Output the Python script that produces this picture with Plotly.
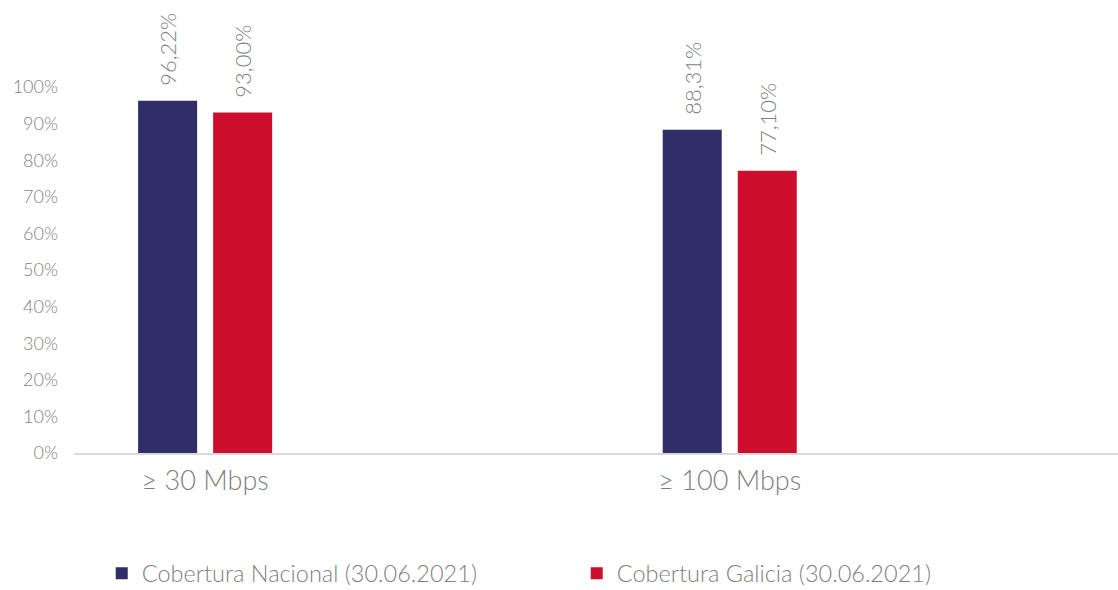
import plotly.graph_objects as go

categories = ["≥ 30 Mbps", "≥ 100 Mbps"]
series_names = ["Cobertura Nacional (30.06.2021)", "Cobertura Galicia (30.06.2021)"]
nacional = [0.9622, 0.8831]
galicia = [0.9300, 0.7710]
colors = ["#302E69", "#CE0E2D"]
tick_vals = [0, 0.1, 0.2, 0.3, 0.4, 0.5, 0.6, 0.7, 0.8, 0.9, 1.0]
tick_text = ["0%", "10%", "20%", "30%", "40%", "50%", "60%", "70%", "80%", "90%", "100%"]

FONT = "Lato"
GRAY = "#7F7F7F"
BAR_W = 0.1125
OFFSETS = [-0.1278, 0.0152]

def fmt(v):
    return "\u00a0\u00a0" + f"{v*100:.2f}".replace(".", ",") + "%"

fig = go.Figure()
for name, vals, col, off in zip(series_names, [nacional, galicia], colors, OFFSETS):
    fig.add_trace(go.Bar(
        x=categories, y=vals, name=name, marker=dict(color=col, line=dict(width=0)),
        width=BAR_W, offset=off,
        text=[fmt(v) for v in vals], textposition="outside", textangle=-90,
        constraintext="none",
        textfont=dict(family=FONT, size=22, color=GRAY, weight=300), cliponaxis=False,
    ))

fig.update_layout(
    width=1118, height=590, plot_bgcolor="white", paper_bgcolor="white",
    margin=dict(l=74, r=0, t=5, b=137, autoexpand=False),
    barmode="overlay",
    font=dict(family=FONT, color=GRAY, weight=300),
    xaxis=dict(range=[-0.25, 1.74], showline=True, linecolor="#D9D9D9", linewidth=2,
               tickfont=dict(size=27, color=GRAY, weight=300), ticks="", showgrid=False,
               ticklabelstandoff=3, automargin=False),
    yaxis=dict(range=[0, 1.224], tickvals=tick_vals, ticktext=tick_text, showgrid=False,
               zeroline=False, tickfont=dict(size=18, color=GRAY, weight=300), ticks="",
               ticklabelstandoff=15, automargin=False),
    legend=dict(orientation="h", x=0.091, xref="container", y=0.028, yref="container",
                xanchor="left", yanchor="middle", entrywidth=430, entrywidthmode="pixels",
                font=dict(size=23.5, color=GRAY, weight=300), itemwidth=30),
    uniformtext=dict(mode=False),
)
fig.write_html(
    "out.html",
    config={"displayModeBar": False},
    post_script="document.body.style.margin='0';document.body.style.padding='0';"
                "var gd=document.getElementById('{plot_id}');"
                "Plotly.relayout(gd,{width:1118,height:590});",
)
